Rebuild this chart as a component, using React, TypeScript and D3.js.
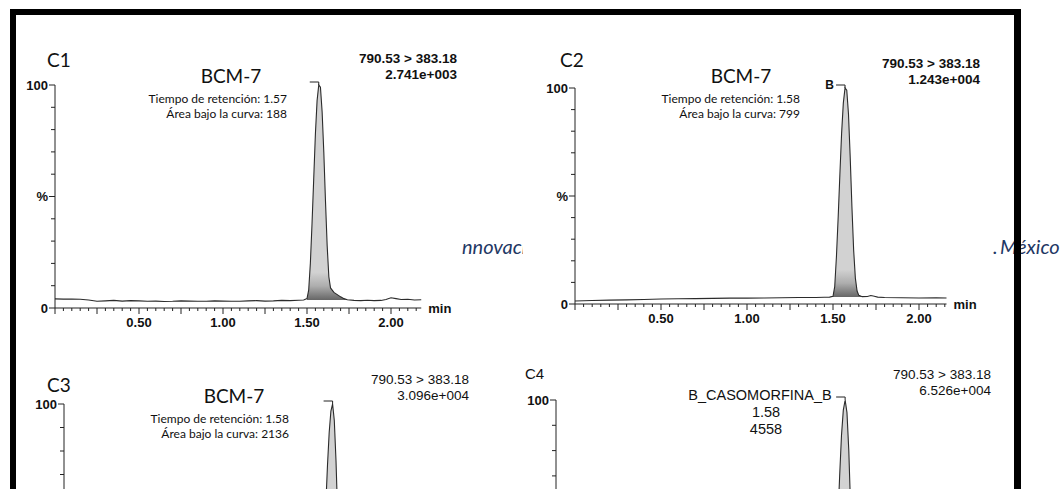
import React from "react";
import * as d3 from "d3";

// retention time (min) / relative intensity (%)
const c1Time = [0, 0.05, 0.1, 0.15, 0.2, 0.25, 0.3, 0.35, 0.4, 0.45, 0.5, 0.55, 0.6, 0.65, 0.7, 0.75, 0.8, 0.85, 0.9, 0.95, 1.0, 1.05, 1.1, 1.15, 1.2, 1.25, 1.3, 1.35, 1.4, 1.45, 1.48, 1.5, 1.51, 1.52, 1.53, 1.54, 1.55, 1.56, 1.57, 1.58, 1.59, 1.6, 1.61, 1.62, 1.63, 1.64, 1.66, 1.68, 1.7, 1.72, 1.74, 1.78, 1.82, 1.86, 1.9, 1.94, 1.97, 2.0, 2.03, 2.06, 2.1, 2.14, 2.18];
const c1Signal = [4.1, 4.0, 4.0, 3.9, 3.6, 3.0, 3.2, 3.4, 3.1, 3.3, 3.2, 3.0, 3.1, 2.9, 3.0, 3.2, 3.1, 3.0, 3.0, 3.2, 3.1, 3.0, 3.0, 3.2, 3.3, 3.1, 3.2, 3.4, 3.3, 3.5, 3.6, 4.2, 8, 20, 38, 58, 78, 93, 100, 99, 88, 70, 48, 28, 14, 9, 7, 6, 5, 4.2, 3.7, 3.4, 3.3, 3.5, 3.3, 3.4, 3.8, 4.6, 4.2, 3.8, 3.9, 3.6, 3.7];

const c2Time = [0, 0.1, 0.2, 0.3, 0.4, 0.5, 0.6, 0.7, 0.8, 0.9, 1.0, 1.1, 1.2, 1.3, 1.4, 1.45, 1.48, 1.5, 1.51, 1.52, 1.53, 1.54, 1.55, 1.56, 1.57, 1.58, 1.59, 1.6, 1.61, 1.62, 1.63, 1.64, 1.65, 1.67, 1.7, 1.72, 1.74, 1.76, 1.8, 1.9, 2.0, 2.1, 2.16];
const c2Signal = [1.4, 1.6, 1.8, 1.9, 2.1, 2.3, 2.4, 2.5, 2.6, 2.7, 2.7, 2.8, 2.9, 3.0, 3.0, 3.1, 3.2, 3.6, 8, 22, 40, 60, 79, 93, 100, 99, 88, 68, 45, 25, 12, 6, 4, 3.4, 3.5, 3.9, 3.6, 3.2, 3.0, 2.9, 2.8, 2.9, 2.8];

const c3Time = [0, 0.5, 1.0, 1.4, 1.48, 1.5, 1.51, 1.52, 1.53, 1.54, 1.55, 1.56, 1.57, 1.58, 1.59, 1.6, 1.61, 1.62, 1.63, 1.64, 1.66, 1.7, 1.8, 2.0, 2.18];
const c3Signal = [2.5, 2.8, 3.0, 3.1, 3.2, 4, 9, 21, 39, 57, 74, 88, 97, 100, 93, 76, 52, 30, 15, 8, 5, 3.6, 3.2, 3.0, 3.0];

const c4Time = [0, 0.5, 1.0, 1.4, 1.48, 1.5, 1.51, 1.52, 1.53, 1.54, 1.55, 1.56, 1.57, 1.58, 1.59, 1.6, 1.61, 1.62, 1.63, 1.64, 1.66, 1.7, 1.8, 2.0, 2.18];
const c4Signal = [2.0, 2.2, 2.4, 2.6, 2.8, 3.5, 7, 17, 33, 52, 70, 86, 96, 100, 95, 80, 57, 34, 17, 8, 4.5, 3.0, 2.6, 2.4, 2.3];

const xTickValues = [0.5, 1.0, 1.5, 2.0];
const xTickLabels = ["0.50", "1.00", "1.50", "2.00"];
const yTickValues = [0, 50, 100];
const yTickLabels = ["0", "%", "100"];

const W = 1062;
const H = 489;
const ARIAL = "'Liberation Sans', Arial, sans-serif";
const SLIDE = "Lato, 'Open Sans', sans-serif";

type TraceProps = {
  id: string;
  time: number[];
  signal: number[];
  peakFrom: number;
  peakTo: number;
  floor: number;
  left: number;
  zero: number;
  top: number;
  perMin: number;
  tEnd: number;
  markerLabel?: string;
};

function Trace(p: TraceProps) {
  const x = d3.scaleLinear().domain([0, p.tEnd]).range([p.left, p.left + p.tEnd * p.perMin]);
  const y = d3.scaleLinear().domain([0, 100]).range([p.zero, p.top]);
  const pts: [number, number][] = p.time.map((t, i) => [t, p.signal[i]]);
  const line = d3.line<[number, number]>().x((d) => x(d[0])).y((d) => y(d[1]));
  const area = d3
    .area<[number, number]>()
    .x((d) => x(d[0]))
    .y0(y(p.floor))
    .y1((d) => y(d[1]));
  const peakPts = pts.filter((d) => d[0] >= p.peakFrom - 1e-9 && d[0] <= p.peakTo + 1e-9);
  const apex = pts.reduce((a, b) => (b[1] > a[1] ? b : a));
  const minor = d3.range(0, Math.floor(p.tEnd / 0.05 + 1e-6) + 1);
  const yTicks = d3.range(0, 101, 10);
  const ax = x(apex[0]);
  const ay = y(apex[1]);
  const xAxisVisible = y(0) + 20 < H;

  return (
    <g>
      <defs>
        <linearGradient id={"fill-" + p.id} gradientUnits="userSpaceOnUse" x1={0} x2={0} y1={y(16)} y2={y(p.floor)}>
          <stop offset="0" stopColor="#d2d2d2" />
          <stop offset="0.5" stopColor="#adadad" />
          <stop offset="1" stopColor="#666" />
        </linearGradient>
      </defs>
      <path d={area(peakPts) || ""} fill={"url(#fill-" + p.id + ")"} />
      <path d={line(pts) || ""} fill="none" stroke="#2b2b2b" strokeWidth={1.1} />
      {/* peak marker */}
      <path d={`M${ax - 9},${ay - 3}H${ax}V${ay}`} fill="none" stroke="#222" strokeWidth={1} />
      {p.markerLabel && (
        <text x={ax - 11} y={ay + 1} textAnchor="end" fontFamily={ARIAL} fontSize={12} fontWeight="bold" fill="#111">
          {p.markerLabel}
        </text>
      )}
      {/* y axis */}
      <line x1={p.left} x2={p.left} y1={y(100)} y2={y(0)} stroke="#222" />
      {yTicks.map((v) => (
        <line key={v} x1={p.left - (v % 50 === 0 ? 6 : 4)} x2={p.left} y1={y(v)} y2={y(v)} stroke="#222" />
      ))}
      {yTickValues.map((v, i) =>
        y(v) + 6 < H ? (
          <text key={v} x={p.left - 7} y={y(v)} dy="0.35em" textAnchor="end" fontFamily={ARIAL} fontSize={13} fontWeight="bold" fill="#111">
            {yTickLabels[i]}
          </text>
        ) : null
      )}
      {/* x axis */}
      {xAxisVisible && (
        <g>
          <line x1={p.left} x2={x(p.tEnd)} y1={y(0)} y2={y(0)} stroke="#222" />
          {minor.map((i) => (
            <line key={i} x1={x(i * 0.05)} x2={x(i * 0.05)} y1={y(0)} y2={y(0) + (i % 5 === 0 ? 6 : 3)} stroke="#222" />
          ))}
          {xTickValues.map((v, i) => (
            <text key={v} x={x(v)} y={y(0) + 19} textAnchor="middle" fontFamily={ARIAL} fontSize={13} fontWeight="bold" fill="#111">
              {xTickLabels[i]}
            </text>
          ))}
          <text x={x(p.tEnd) + 7} y={y(0)} dy="0.35em" fontFamily={ARIAL} fontSize={13} fontWeight="bold" fill="#111">min</text>
        </g>
      )}
    </g>
  );
}

function Header({ right, y, top, bottom, bold }: { right: number; y: number; top: string; bottom: string; bold: boolean }) {
  return (
    <g fontFamily={ARIAL} fontSize={13.5} fontWeight={bold ? "bold" : "normal"} fill="#111" textAnchor="end">
      <text x={right} y={y}>{top}</text>
      <text x={right} y={y + 16}>{bottom}</text>
    </g>
  );
}

function Info({ center, right, y, rt, area }: { center: number; right: number; y: number; rt: string; area: string }) {
  return (
    <g fontFamily={SLIDE} fill="#111">
      <text x={center} y={y} textAnchor="middle" fontSize={19}>BCM-7</text>
      <text x={right} y={y + 20} textAnchor="end" fontSize={12}>{"Tiempo de retención:  " + rt}</text>
      <text x={right} y={y + 35} textAnchor="end" fontSize={12}>{"Área bajo la curva:  " + area}</text>
    </g>
  );
}

export default function App() {
  return (
    <svg width={W} height={H} style={{ position: "absolute", left: 0, top: 0, background: "#fff" }}>
      <rect width={W} height={H} fill="#fff" />
      {/* slide text partly hidden behind the pasted chromatograms */}
      <text x={462} y={254} fontFamily={SLIDE} fontStyle="italic" fontSize={20} fill="#1f3864">nnovación</text>
      <text x={993} y={254} fontFamily={SLIDE} fontStyle="italic" fontSize={20} fill="#1f3864">.</text>
      <text x={1000} y={254} fontFamily={SLIDE} fontStyle="italic" fontSize={20} fill="#1f3864">México</text>

      {/* C1 */}
      <text x={47} y={67} fontFamily={SLIDE} fontSize={19} fill="#111">C1</text>
      <Info center={231} right={287} y={83} rt="1.57" area="188" />
      <Header right={457} y={63} top="790.53 > 383.18" bottom="2.741e+003" bold={true} />
      <Trace id="c1" time={c1Time} signal={c1Signal} peakFrom={1.5} peakTo={1.74} floor={3.6} left={55} zero={308} top={85} perMin={168} tEnd={2.18} />

      {/* C2 (pasted image hides the slide text behind it) */}
      <rect x={523} y={44} width={467} height={292} fill="#fff" />
      <text x={560} y={67} fontFamily={SLIDE} fontSize={19} fill="#111">C2</text>
      <Info center={741} right={800} y={83} rt="1.58" area="799" />
      <Header right={980} y={68} top="790.53 > 383.18" bottom="1.243e+004" bold={true} />
      <Trace id="c2" time={c2Time} signal={c2Signal} peakFrom={1.5} peakTo={1.67} floor={3.2} left={575} zero={304} top={88} perMin={172} tEnd={2.16} markerLabel="B" />

      {/* C3 */}
      <text x={47} y={392} fontFamily={SLIDE} fontSize={19} fill="#111">C3</text>
      <Info center={234} right={289} y={403} rt="1.58" area="2136" />
      <Header right={469} y={384} top="790.53 > 383.18" bottom="3.096e+004" bold={false} />
      <Trace id="c3" time={c3Time} signal={c3Signal} peakFrom={1.5} peakTo={1.7} floor={3.2} left={64} zero={639} top={404} perMin={170} tEnd={2.18} />

      {/* C4 */}
      <text x={525} y={379} fontFamily={ARIAL} fontSize={15} fill="#111">C4</text>
      <g fontFamily={ARIAL} fontSize={14.5} fill="#111" textAnchor="middle">
        <text x={760} y={400}>B_CASOMORFINA_B</text>
        <text x={766} y={417}>1.58</text>
        <text x={766} y={434}>4558</text>
      </g>
      <Header right={991} y={379} top="790.53 > 383.18" bottom="6.526e+004" bold={false} />
      <Trace id="c4" time={c4Time} signal={c4Signal} peakFrom={1.5} peakTo={1.7} floor={2.8} left={556} zero={653} top={400} perMin={183} tEnd={2.18} />

      {/* slide frame */}
      <rect x={10} y={9} width={1011} height={6} fill="#000" />
      <rect x={10} y={9} width={6} height={480} fill="#000" />
      <rect x={1014} y={9} width={7} height={480} fill="#000" />
    </svg>
  );
}
